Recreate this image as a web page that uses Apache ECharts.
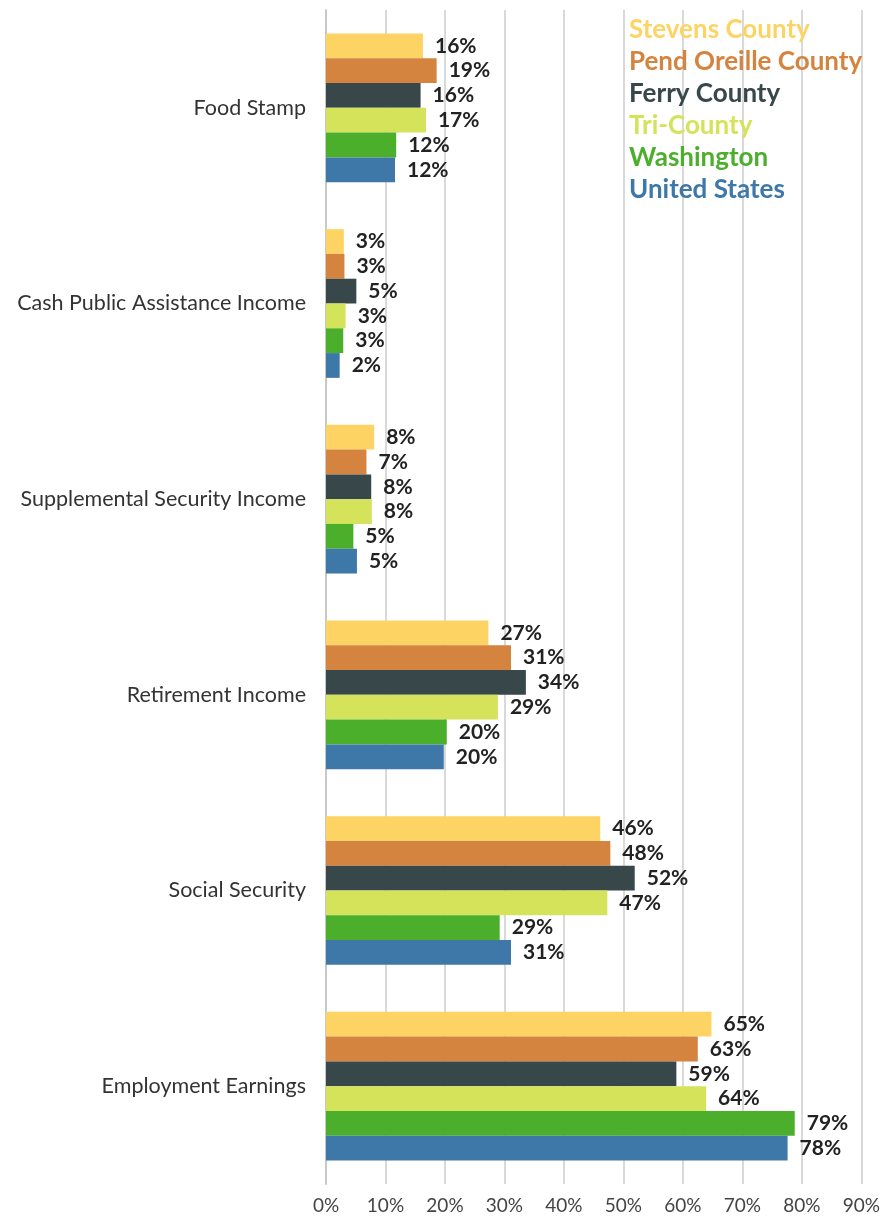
<!DOCTYPE html>
<html>
<head>
<meta charset="utf-8">
<script src="https://cdn.jsdelivr.net/npm/echarts@6/dist/echarts.min.js"></script>
<style>
  html, body { margin: 0; padding: 0; background: #fff; }
  #chart { width: 883px; height: 1224px; }
</style>
</head>
<body>
<div id="chart"></div>
<script>
const categories = [
    'Food Stamp',
    'Cash Public Assistance Income',
    'Supplemental Security Income',
    'Retirement Income',
    'Social Security',
    'Employment Earnings',
]

const seriesNames = [
    'Stevens County',
    'Pend Oreille County',
    'Ferry County',
    'Tri-County',
    'Washington',
    'United States',
]

const seriesColors = ['#fdd463', '#d4843f', '#37474a', '#d4e35a', '#4caf2c', '#3e78a8']

// percent values, one array per series, in category order
const stevens = [16.3, 3.0, 8.1, 27.3, 46.1, 64.8]
const pendOreille = [18.6, 3.1, 6.8, 31.1, 47.8, 62.5]
const ferry = [15.9, 5.1, 7.6, 33.6, 51.9, 58.9]
const triCounty = [16.8, 3.3, 7.7, 28.9, 47.3, 63.9]
const washington = [11.8, 2.9, 4.6, 20.3, 29.2, 78.8]
const unitedStates = [11.6, 2.3, 5.2, 19.8, 31.1, 77.6]

const allValues = [stevens, pendOreille, ferry, triCounty, washington, unitedStates]

function drawChart() {
    var myChart = echarts.init(document.getElementById('chart'))
    var font = 'Lato, "Noto Sans", sans-serif'

    var series = []
    for (var i = 0; i < seriesNames.length; i++) {
        series.push({
            name: seriesNames[i],
            type: 'bar',
            data: allValues[i],
            barGap: '0%',
            barCategoryGap: '24%',
            itemStyle: { color: seriesColors[i] },
            label: {
                show: true,
                position: 'right',
                distance: 12,
                formatter: function (p) {
                    return Math.round(p.value) + '%'
                },
                color: '#222',
                fontFamily: font,
                fontWeight: 'bold',
                fontSize: 21,
            },
            animation: false,
        })
    }

    var option = {
        backgroundColor: '#fff',
        grid: {
            left: 326,
            right: 21,
            top: 10,
            bottom: 40,
        },
        legend: {
            orient: 'vertical',
            left: 624,
            top: 12,
            itemWidth: 0,
            itemHeight: 0,
            itemGap: 6,
            selectedMode: false,
            data: seriesNames.map(function (n, i) {
                return {
                    name: n,
                    icon: 'none',
                    textStyle: { color: seriesColors[i] },
                }
            }),
            textStyle: {
                fontFamily: font,
                fontSize: 26,
                fontWeight: 'bold',
                padding: [0, 0, 0, -6],
            },
        },
        xAxis: {
            type: 'value',
            min: 0,
            max: 90,
            interval: 10,
            axisLine: { show: false },
            axisTick: { show: false },
            axisLabel: {
                formatter: '{value}%',
                color: '#444',
                fontFamily: font,
                fontSize: 19,
                margin: 12,
            },
            splitLine: {
                lineStyle: { color: '#d9d9d9', width: 2 },
            },
        },
        yAxis: {
            type: 'category',
            inverse: true,
            data: categories,
            axisLine: { lineStyle: { color: '#c8c8c8', width: 2 } },
            axisTick: { show: false },
            axisLabel: {
                color: '#333',
                fontFamily: font,
                fontSize: 21.5,
                margin: 20,
            },
        },
        series: series,
    }

    myChart.setOption(option)
}

drawChart()
</script>
</body>
</html>
